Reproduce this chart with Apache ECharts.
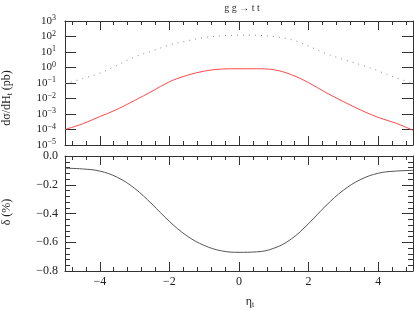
<!DOCTYPE html>
<html>
<head>
<meta charset="utf-8">
<script src="https://cdn.jsdelivr.net/npm/echarts@6/dist/echarts.min.js"></script>
<style>
html,body{margin:0;padding:0;background:#fff;}
#c{width:414px;height:310px;}
</style>
</head>
<body>
<div id="c"></div>
<script>
// ---- data ----
const eta = [-5, -4.5, -4, -3.5, -3, -2.5, -2, -1.5, -1, -0.5, 0, 0.5, 1, 1.5, 2, 2.5, 3, 3.5, 4, 4.5, 5];
const sigmaRed = [1.0e-4, 2.3e-4, 6.8e-4, 2.0e-3, 7.5e-3, 2.9e-2, 0.12, 0.31, 0.58, 0.8, 0.83, 0.83, 0.72, 0.35, 0.105, 0.024, 6.3e-3, 1.8e-3, 6.0e-4, 2.6e-4, 8.9e-5];
const sigmaDotted = [0.089, 0.19, 0.43, 1.38, 4.8, 11.7, 28, 52, 85, 112, 123, 120, 100, 63, 24, 7.9, 3.3, 1.5, 0.60, 0.22, 0.10];
const delta = [-0.085, -0.09, -0.105, -0.148, -0.225, -0.335, -0.455, -0.555, -0.622, -0.66, -0.67, -0.667, -0.642, -0.578, -0.47, -0.345, -0.238, -0.163, -0.12, -0.105, -0.10];
const xMajorTicks = [-4, -2, 0, 2, 4];
const xMinorTicks = [-4.8,-4.4,-3.6,-3.2,-2.8,-2.4,-1.6,-1.2,-0.8,-0.4,0.4,0.8,1.2,1.6,2.4,2.8,3.2,3.6,4.4,4.8];
const logTickExponents = [-5,-4,-3,-2,-1,0,1,2,3];
const deltaTicks = [0, -0.2, -0.4, -0.6, -0.8];
const titleText = 'g g \u2192 t t';

// ---- chart ----
const FONT = 'Liberation Serif';
const AX = '#333';
const chart = echarts.init(document.getElementById('c'), null, {renderer: 'canvas'});

function xAx(grid, pos, ticks, len, labels, line) {
  return {
    type: 'value', gridIndex: grid, position: pos, min: -5, max: 5,
    axisLine: {show: line, onZero: false, lineStyle: {color: AX, width: 1}},
    axisTick: {show: true, inside: true, length: len, customValues: ticks, lineStyle: {color: AX}},
    axisLabel: labels ? {show: true, customValues: xMajorTicks, fontFamily: FONT, fontSize: 12, color: '#222', margin: 5,
      formatter: v => String(v).replace('-', '\u2212')} : {show: false},
    splitLine: {show: false}
  };
}
const sup = {fontFamily: FONT, fontSize: 8, lineHeight: 7, verticalAlign: 'top', color: '#222'};
const base = {fontFamily: FONT, fontSize: 11, lineHeight: 14, color: '#222'};
const logVals = logTickExponents.map(e => Math.pow(10, e));

const option = {
  animation: false,
  backgroundColor: '#fff',
  grid: [
    {left: 65, right: 1, top: 21, height: 124},
    {left: 65, right: 1, top: 156, height: 115}
  ],
  xAxis: [
    xAx(0, 'bottom', xMajorTicks, 9, false, true),
    xAx(0, 'bottom', xMinorTicks, 4, false, false),
    xAx(0, 'top', xMajorTicks, 9, false, true),
    xAx(0, 'top', xMinorTicks, 4, false, false),
    xAx(1, 'bottom', xMajorTicks, 9, true, true),
    xAx(1, 'bottom', xMinorTicks, 4, false, false),
    xAx(1, 'top', xMajorTicks, 9, false, true),
    xAx(1, 'top', xMinorTicks, 4, false, false)
  ],
  yAxis: [
    {type: 'log', logBase: 10, gridIndex: 0, position: 'left', min: 1e-5, max: 1e3,
     axisLine: {show: true, onZero: false, lineStyle: {color: AX}},
     axisTick: {show: true, inside: true, length: 11, customValues: logVals, lineStyle: {color: AX}},
     axisLabel: {show: true, margin: 9, customValues: logVals,
       formatter: v => { const e = Math.round(Math.log10(v)); return '{b|10}{s|' + String(e).replace('-', '\u2212') + '}'; },
       rich: {b: base, s: sup}},
     splitLine: {show: false}},
    {type: 'log', logBase: 10, gridIndex: 0, position: 'right', min: 1e-5, max: 1e3,
     axisLine: {show: true, onZero: false, lineStyle: {color: AX}},
     axisTick: {show: true, inside: true, length: 11, customValues: logVals, lineStyle: {color: AX}},
     axisLabel: {show: false}, splitLine: {show: false}},
    {type: 'value', gridIndex: 1, position: 'left', min: -0.8, max: 0, interval: 0.2,
     axisLine: {show: true, onZero: false, lineStyle: {color: AX}},
     axisTick: {show: true, inside: true, length: 11, lineStyle: {color: AX}},
     minorTick: {show: true, splitNumber: 5, length: 5, lineStyle: {color: AX}},
     axisLabel: {show: true, margin: 7, fontFamily: FONT, fontSize: 12, color: '#222', customValues: deltaTicks,
       formatter: v => v.toFixed(1).replace('-', '\u2212')},
     splitLine: {show: false}},
    {type: 'value', gridIndex: 1, position: 'right', min: -0.8, max: 0, interval: 0.2,
     axisLine: {show: true, onZero: false, lineStyle: {color: AX}},
     axisTick: {show: true, inside: true, length: 11, lineStyle: {color: AX}},
     minorTick: {show: true, splitNumber: 5, length: 5, lineStyle: {color: AX}},
     axisLabel: {show: false}, splitLine: {show: false}}
  ],
  series: [
    {type: 'line', xAxisIndex: 0, yAxisIndex: 0, showSymbol: false, smooth: 0.35,
     data: eta.map((x, i) => [x, sigmaDotted[i]]),
     lineStyle: {color: '#888', width: 1, type: [1, 5]}},
    {type: 'line', xAxisIndex: 0, yAxisIndex: 0, showSymbol: false, smooth: 0.35,
     data: eta.map((x, i) => [x, sigmaRed[i]]),
     lineStyle: {color: '#ff4a4a', width: 1}},
    {type: 'line', xAxisIndex: 4, yAxisIndex: 2, showSymbol: false, smooth: 0.4,
     data: eta.map((x, i) => [x, delta[i]]),
     lineStyle: {color: '#555', width: 1}}
  ],
  graphic: [
    {type: 'text', x: 242, y: 8, style: {text: titleText, font: '10px ' + FONT, fill: '#333', textAlign: 'center', textVerticalAlign: 'middle'}},
    {type: 'text', x: 7, y: 98, rotation: Math.PI / 2,
     style: {text: '{a|d\u03c3/dH}{s|t}{a| (pb)}', textAlign: 'center', textVerticalAlign: 'middle',
       rich: {a: {fontFamily: FONT, fontSize: 12, lineHeight: 14, fill: '#222', color: '#222'},
              s: {fontFamily: FONT, fontSize: 8, lineHeight: 7, verticalAlign: 'bottom', fill: '#222', color: '#222'}}}},
    {type: 'text', x: 7, y: 212, rotation: Math.PI / 2,
     style: {text: '\u03b4 (%)', font: '12px ' + FONT, fill: '#222', textAlign: 'center', textVerticalAlign: 'middle'}},
    {type: 'text', x: 250, y: 302,
     style: {text: '{a|\u03b7}{s|t}', textAlign: 'center', textVerticalAlign: 'middle',
       rich: {a: {fontFamily: FONT, fontSize: 12, lineHeight: 14, fill: '#222', color: '#222'},
              s: {fontFamily: FONT, fontSize: 8, lineHeight: 7, verticalAlign: 'bottom', fill: '#222', color: '#222'}}}}
  ]
};
chart.setOption(option);
</script>
</body>
</html>
